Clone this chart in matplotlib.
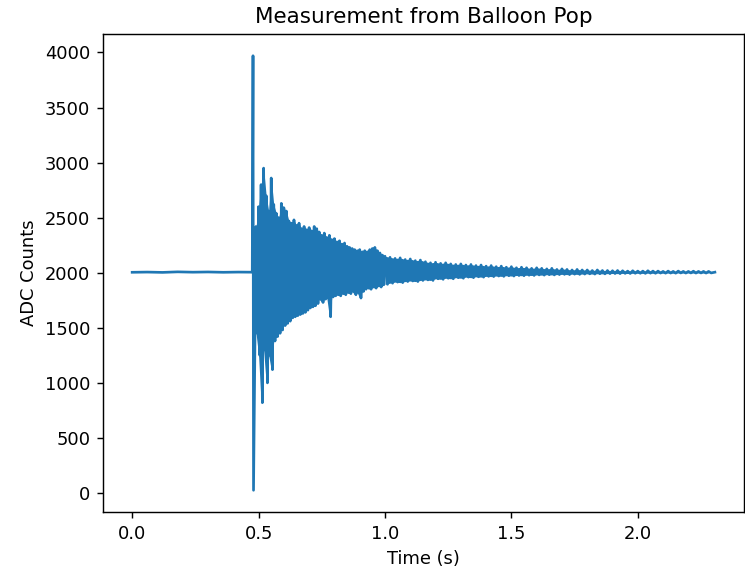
import numpy as np
import matplotlib
matplotlib.use("Agg")
import matplotlib.pyplot as plt

# quiet baseline before the pop
pre_t = [0.0, 0.06, 0.12, 0.18, 0.24, 0.30, 0.36, 0.42, 0.475]
pre_v = [2004, 2006, 2003, 2008, 2005, 2007, 2004, 2006, 2005]

# the pop itself
spike_t = [0.478, 0.480]
spike_v = [3970, 25]

# ringing envelope, 0.49 - 0.99 s, every 10 ms (lows half a step later)
upper_early = [2420, 2600, 2800, 2950, 2700, 2560, 2860, 2620, 2540, 2500,
               2630, 2590, 2560, 2470, 2450, 2480, 2430, 2450, 2400, 2420,
               2390, 2410, 2380, 2420, 2400, 2370, 2340, 2360, 2320, 2340,
               2300, 2310, 2280, 2290, 2260, 2270, 2240, 2230, 2220, 2210,
               2200, 2210, 2190, 2200, 2190, 2210, 2220, 2230, 2200, 2180,
               2160]
lower_early = [1450, 1250, 820, 1300, 1000, 1250, 1120, 1380, 1420, 1450,
               1480, 1520, 1540, 1560, 1590, 1600, 1610, 1620, 1630, 1640,
               1660, 1680, 1690, 1700, 1720, 1760, 1730, 1760, 1770, 1600,
               1780, 1790, 1800, 1790, 1810, 1800, 1820, 1810, 1830, 1800,
               1820, 1770, 1830, 1850, 1860, 1850, 1870, 1860, 1880, 1870,
               1890]

# slow decay, 1.00 - 2.28 s, every 20 ms
upper_late = [2150, 2140, 2130, 2135, 2120, 2125, 2110, 2115, 2100, 2090,
              2095, 2085, 2090, 2080, 2075, 2080, 2070, 2075, 2065, 2070,
              2060, 2065, 2055, 2060, 2050, 2055, 2045, 2050, 2045, 2040,
              2045, 2040, 2035, 2040, 2030, 2035, 2030, 2025, 2030, 2025,
              2025, 2020, 2025, 2020, 2020, 2018, 2020, 2018, 2015, 2018,
              2015, 2015, 2018, 2015, 2015, 2012, 2015, 2012, 2015, 2012,
              2012, 2014, 2012, 2012, 2012]
lower_late = [1895, 1905, 1915, 1910, 1920, 1925, 1920, 1930, 1935, 1930,
              1945, 1940, 1950, 1945, 1955, 1950, 1960, 1955, 1963, 1960,
              1967, 1965, 1970, 1967, 1973, 1970, 1975, 1973, 1977, 1975,
              1980, 1978, 1982, 1980, 1983, 1985, 1983, 1987, 1985, 1988,
              1990, 1988, 1991, 1990, 1992, 1993, 1992, 1994, 1993, 1995,
              1995, 1994, 1996, 1995, 1997, 1996, 1997, 1996, 1998, 1997,
              1998, 1997, 1998, 1997, 1998]

end_t = [2.305]
end_v = [2005]

t_up_e = 0.49 + 0.01 * np.arange(len(upper_early))
t_lo_e = t_up_e + 0.005
t_up_l = 1.00 + 0.02 * np.arange(len(upper_late))
t_lo_l = t_up_l + 0.01

t = list(pre_t) + list(spike_t)
v = list(pre_v) + list(spike_v)
for a, b, c, d in zip(t_up_e, upper_early, t_lo_e, lower_early):
    t += [a, c]
    v += [b, d]
for a, b, c, d in zip(t_up_l, upper_late, t_lo_l, lower_late):
    t += [a, c]
    v += [b, d]
t += end_t
v += end_v

fig = plt.figure(figsize=(745 / 129, 568 / 129), dpi=129)
ax = fig.add_axes([0.1383, 0.0986, 0.8604, 0.8415])
line, = ax.plot(t, v)
# the ringing is too dense to resolve: fill between its peaks
c = line.get_color()
ax.fill_between(t_up_e, lower_early, upper_early, color=c, lw=0)
ax.fill_between(t_up_l, lower_late, upper_late, color=c, lw=0)
ax.set_title("Measurement from Balloon Pop")
ax.set_xlabel("Time (s)")
ax.set_ylabel("ADC Counts")

fig.savefig("out.png", dpi=129)
